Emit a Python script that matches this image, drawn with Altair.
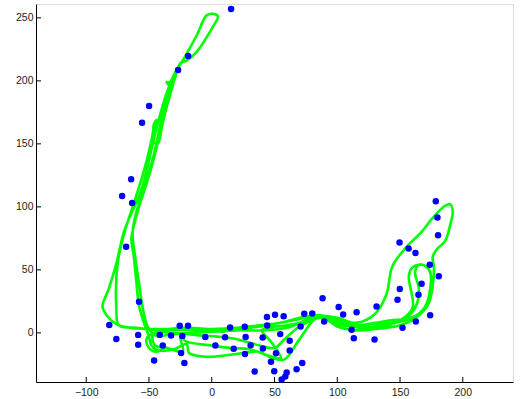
import altair as alt
import pandas as pd

# ---- data ----
dot_x = [15.4, -18.8, -26.8, -49.9, -55.5, -64.2, -71.4, -63.4, -68.2, -57.9,
         -81.6, -76.0, -58.6, -58.6, -45.9, -41.4, -39.0, -32.4, -25.5, -18.9,
         -23.4, -24.4, -21.8, -5.1, 2.9, 10.6, 14.6, 26.3, 27.0, 17.5,
         26.5, 31.0, 34.2, 40.6, 40.8, 44.0, 44.2, 50.4, 57.3, 54.6,
         62.1, 62.1, 51.2, 47.2, 49.8, 55.7, 59.7, 58.6, 67.6, 72.1,
         70.8, 73.7, 80.1, 88.3, 89.6, 101.1, 104.7, 115.4, 111.4, 113.2,
         129.7, 131.3, 148.0, 149.8, 152.0, 162.6, 174.0, 164.7, 167.2, 173.7,
         180.9, 149.6, 156.8, 162.3, 180.3, 179.8, 178.5]
dot_y = [257.0, 219.8, 208.7, 180.0, 166.7, 122.0, 108.7, 103.0, 68.3, 24.6,
         6.3, -4.8, -1.6, -9.5, -22.0, -1.6, -10.1, -2.1, 5.6, 5.6,
         -2.4, -15.9, -24.0, -3.2, -10.1, -3.4, 4.2, 4.8, -3.2, -12.7,
         -16.7, -9.8, -30.7, -3.7, -12.4, 12.5, 5.8, 14.3, 13.2, -1.0,
         -6.3, -14.0, -16.1, -23.0, -30.4, -37.0, -31.5, -34.7, -28.8, -24.0,
         5.0, 15.1, 15.3, 27.5, 9.0, 20.6, 14.5, 16.4, 2.4, -4.2,
         -5.3, 20.9, 26.2, 34.9, 4.0, 9.0, 14.0, 30.2, 38.9, 54.0,
         45.0, 71.7, 66.9, 63.3, 77.5, 91.5, 104.5]

path_x = [
    # lap A
    10, -10, -30, -48, -65, -76, -83, -87, -82, -76, -70, -64, -58, -52, -47, -42, -36, -30, -22, -12,
    -4, 2, 5, 1, -5, -12, -20, -25, -28, -32, -37, -42, -47, -52, -58, -62, -64, -62, -60, -58,
    -54, -50, -48, -42, -30, -20, -18, -5, 10, 25, 38, 48, 58, 70, 85, 100, 115, 130, 143, 154,
    167, 173, 176, 177, 176, 179, 186, 190, 192, 190, 186, 175, 167, 155, 144, 139, 130, 115, 100, 85,
    70, 55, 38, 20, 0, -20, -42,
    # lap B
    -60, -74, -76, -75, -70, -63, -56, -51, -47, -46, -44, -46, -47, -43, -40, -36, -34, -36, -31, -28,
    -27, -31, -36, -41, -46, -53, -60, -63, -61, -58, -55, -51, -45, -30, -15, 0, 20, 40, 60, 75,
    86, 100, 120, 140, 155, 163, 165, 162, 165, 172, 175, 173, 168, 160, 145, 128, 115, 100, 88, 80,
    60,
    # lap C
    45, 40, 48, 55, 45, 30, 15, 0, -20, -25, -23, -35, -45, -47, -40, -20, 0, 20, 38, 60,
    75, 88, 100, 118, 135, 150, 160, 157, 160, 168, 174, 174, 170, 163, 150, 130, 115, 100, 88, 70,
    58, 50, 38, 20, 5, -10, -30, -45, -52, -50, -44, -38]
path_y = [
    # lap A
    1, 2, 3, 3, 4, 7, 13, 21, 35, 55, 80, 95, 108, 128, 150, 170, 190, 205, 218, 236,
    252, 253, 251, 243, 233, 223, 216, 214, 207, 193, 175, 155, 135, 118, 100, 85, 75, 60, 40, 22,
    8, -3, -10, -14, -13, -9, -16, -19, -18, -16, -15, -20, -21, -5, 13, 9, 6, 8, 10, 11,
    16, 24, 37, 52, 60, 66, 73, 86, 96, 102, 101, 90, 80, 68, 53, 30, 15, 8, 12, 14,
    12, 8, 6, 4, 3, 3, 2,
    # lap B
    4, 6, 20, 55, 78, 100, 122, 140, 158, 166, 169, 162, 152, 150, 162, 182, 196, 199, 199, 207,
    211, 200, 185, 165, 142, 117, 96, 80, 60, 40, 20, 5, -2, -1, 0, 1, 2, 2, 4, 10,
    14, 10, 4, 6, 12, 22, 35, 48, 54, 52, 42, 28, 18, 12, 8, 7, 5, 7, 13, 10,
    6,
    # lap C
    4, 2, -8, -20, -18, -13, -12, -10, -7, -3, -15, -12, -10, -2, 2, 4, 3, 3, 5, 9,
    12, 13, 9, 4, 6, 10, 20, 45, 52, 54, 48, 35, 20, 12, 6, 3, 2, 5, 12, 5,
    -5, -12, -10, -5, -3, -2, 0, 0, -5, -12, -15, -12]

x_ticks = [-100, -50, 0, 50, 100, 150, 200]
y_ticks = [0, 50, 100, 150, 200, 250]
X_DOMAIN = [-140, 240]
Y_DOMAIN = [-39, 261]

W, H = 477, 378
FONT = "Liberation Sans"

dots = pd.DataFrame({"x": dot_x, "y": dot_y})
path = pd.DataFrame({"x": path_x, "y": path_y, "step": list(range(len(path_x)))})
xt = pd.DataFrame({"v": x_ticks})
yt = pd.DataFrame({"v": y_ticks})

xs = alt.Scale(domain=X_DOMAIN, nice=False, zero=False)
ys = alt.Scale(domain=Y_DOMAIN, nice=False, zero=False)

xaxis = alt.Axis(values=x_ticks, ticks=False, grid=False, title=None,
                 domainColor="black", domainWidth=1, labelPadding=5,
                 labelFont=FONT, labelFontSize=10.5, labelColor="#222222")
yaxis = alt.Axis(values=y_ticks, ticks=False, grid=False, title=None,
                 domainColor="black", domainWidth=1, labelPadding=3,
                 labelFont=FONT, labelFontSize=10.5, labelColor="#222222")

line = alt.Chart(path).mark_line(color="#00ff00", strokeWidth=2.6,
                                 strokeJoin="round", strokeCap="round",
                                 interpolate="catmull-rom").encode(
    x=alt.X("x:Q", scale=xs, axis=xaxis),
    y=alt.Y("y:Q", scale=ys, axis=yaxis),
    order="step:Q",
)

pts = alt.Chart(dots).mark_circle(color="#0000ff", size=42, opacity=1).encode(
    x=alt.X("x:Q", scale=xs),
    y=alt.Y("y:Q", scale=ys),
)

xtick = alt.Chart(xt).mark_rule(color="black", strokeWidth=1).encode(
    x=alt.X("v:Q", scale=xs),
    y=alt.value(H - 5),
    y2=alt.value(H),
)
ytick = alt.Chart(yt).mark_rule(color="black", strokeWidth=1).encode(
    y=alt.Y("v:Q", scale=ys),
    x=alt.value(0),
    x2=alt.value(5),
)

chart = alt.layer(line, pts, xtick, ytick).properties(
    width=W, height=H,
    autosize=alt.AutoSizeParams(type="none"),
    padding={"left": 36, "top": 4, "right": 7, "bottom": 17},
).configure_view(stroke=None).configure(background="white")

chart.save("out.html", embed_options={"renderer": "svg", "actions": False})
